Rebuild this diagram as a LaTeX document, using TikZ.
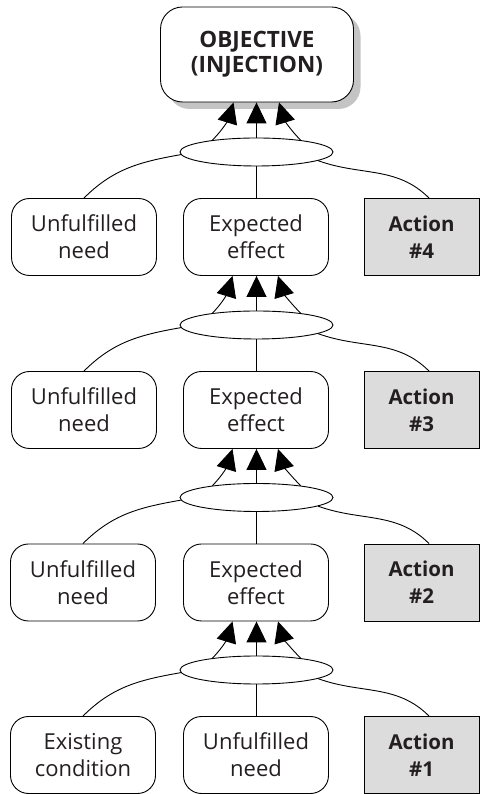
\documentclass[tikz,border=0pt]{standalone}
\usepackage{fontspec}
\setmainfont{Open Sans}
\usetikzlibrary{shapes.geometric,arrows.meta,calc,shadows}
\definecolor{txt}{HTML}{231F20}
\definecolor{actfill}{HTML}{DCDCDC}
\definecolor{shad}{HTML}{C4C4C4}
\begin{document}
\begin{tikzpicture}[x=1pt,y=1pt,line width=0.9pt,
  roundbox/.style={draw,rounded corners=18pt,minimum width=145pt,minimum height=77pt,inner sep=0pt,align=center,text=txt,font=\fontsize{22}{27}\selectfont},
  actbox/.style={draw,fill=actfill,minimum width=115pt,minimum height=77pt,inner sep=0pt,align=center,text=txt,font=\fontsize{20.5}{27}\selectfont\bfseries},
  topbox/.style={draw,fill=white,rounded corners=22pt,minimum width=193pt,minimum height=95pt,inner sep=0pt,align=center,text=txt,font=\fontsize{22.5}{25}\selectfont\bfseries,
    drop shadow={shadow xshift=7pt,shadow yshift=-7pt,fill=shad,opacity=1}},
  andnode/.style={draw,ellipse,minimum width=153pt,minimum height=28pt,inner sep=0pt},
  arr/.style={-{Triangle[length=21pt,width=20pt]}},
  conn/.style={}
]
\useasboundingbox (0,0) rectangle (481,794);

\node[topbox] (obj) at (257,739.5) {OBJECTIVE\\(INJECTION)};

\node[andnode] (e1) at (256.5,642) {};
\node[roundbox] (n1) at (84,557) {Unfulfilled\\need};
\node[roundbox] (x1) at (256,557) {Expected\\effect};
\node[actbox] (a4) at (421.5,557) {Action\\\#4};

\node[andnode] (e2) at (256.5,469) {};
\node[roundbox] (n2) at (84,384) {Unfulfilled\\need};
\node[roundbox] (x2) at (256,384) {Expected\\effect};
\node[actbox] (a3) at (421.5,384) {Action\\\#3};

\node[andnode] (e3) at (256.5,296.5) {};
\node[roundbox] (n3) at (83,211.5) {Unfulfilled\\need};
\node[roundbox] (x3) at (256,211.5) {Expected\\effect};
\node[actbox] (a2) at (421.5,211.5) {Action\\\#2};

\node[andnode] (e4) at (256.5,124) {};
\node[roundbox] (c4) at (83,39) {Existing\\condition};
\node[roundbox] (n4) at (256,39) {Unfulfilled\\need};
\node[actbox] (a1) at (421.5,39) {Action\\\#1};

% arrows from ellipses up to the box above
\foreach \e/\b in {e1/obj,e2/x1,e3/x2,e4/x3}{
  \draw[arr] (\e.165) to[out=45,in=-107] ($(\b.south)+(-23.5,0)$);
  \draw[arr] (\e.north) -- (\e.north |- \b.south);
  \draw[arr] (\e.15) to[out=135,in=-73] ($(\b.south)+(22,0)$);
}

% connectors from ellipses down to the three boxes
\foreach \e/\l/\m/\r in {e1/n1/x1/a4,e2/n2/x2/a3,e3/n3/x3/a2,e4/c4/n4/a1}{
  \draw (\e.182) to[out=190,in=45] (\l.north);
  \draw (\e.south) -- (\e.south |- \m.north);
  \draw (\e.-8) to[out=-20,in=135] ($(\r.north)+(7.5,0)$);
}
\end{tikzpicture}
\end{document}
